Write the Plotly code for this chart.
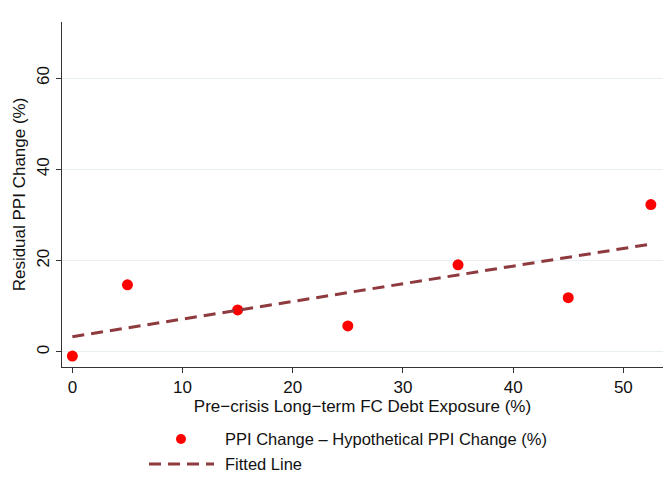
import numpy as np
import plotly.graph_objects as go

# Long-term FC debt exposure before the crisis (%) and residual PPI change (%)
exposure = [0, 5, 15, 25, 35, 45, 52.5]
residual_ppi = [-0.9, 14.7, 9.2, 5.7, 19.1, 11.9, 32.3]

x_ticks = [0, 10, 20, 30, 40, 50]
y_ticks = [0, 20, 40, 60]

scatter_label = "PPI Change \u2013 Hypothetical PPI Change (%)"
fit_label = "Fitted Line"
x_title = "Pre\u2212crisis Long\u2212term FC Debt Exposure (%)"
y_title = "Residual PPI Change (%)"

RED = "#FF0000"
MAROON = "#8E3A3E"
GRID = "#E8EFF2"
FONT = "Liberation Sans, Arial, Helvetica, sans-serif"

# OLS fit across the observed range
slope, intercept = np.polyfit(exposure, residual_ppi, 1)
fit_x = [min(exposure), max(exposure)]
fit_y = [intercept + slope * v for v in fit_x]

fig = go.Figure()
fig.add_trace(go.Scatter(
    x=exposure, y=residual_ppi, mode="markers",
    marker=dict(color=RED, size=11, line=dict(width=0)),
    name=scatter_label, showlegend=False,
))
fig.add_trace(go.Scatter(
    x=fit_x, y=fit_y, mode="lines",
    line=dict(color=MAROON, width=3, dash="12px,7px"),
    name=fit_label, showlegend=False,
))

# Legend drawn below the plot, in paper coordinates
W, H = 667, 497
ml, mr, mt, mb = 62, 4, 22, 130
pw, ph = W - ml - mr, H - mt - mb


def px(xp):
    return (xp - ml) / pw


def py(yp):
    return (H - mb - yp) / ph


legend_shapes = [
    dict(type="circle", xref="paper", yref="paper",
         x0=px(176), x1=px(186), y0=py(444), y1=py(434),
         fillcolor=RED, line=dict(width=0)),
    dict(type="line", xref="paper", yref="paper",
         x0=px(149), x1=px(214), y0=py(464), y1=py(464),
         line=dict(color=MAROON, width=3, dash="12px,7px")),
]
legend_text = [
    dict(text=scatter_label, xref="paper", yref="paper", x=px(223), y=py(439),
         xanchor="left", yanchor="middle", showarrow=False,
         font=dict(family=FONT, size=16.5, color="#111")),
    dict(text=fit_label, xref="paper", yref="paper", x=px(223), y=py(464),
         xanchor="left", yanchor="middle", showarrow=False,
         font=dict(family=FONT, size=16.5, color="#111")),
]

fig.update_layout(
    width=W, height=H,
    margin=dict(l=ml, r=mr, t=mt, b=mb),
    paper_bgcolor="white", plot_bgcolor="white",
    font=dict(family=FONT, size=16, color="#111"),
    shapes=legend_shapes, annotations=legend_text,
    showlegend=False,
)
fig.update_xaxes(
    range=[-0.94, 53.6], tickvals=x_ticks, ticks="outside", ticklen=5,
    tickcolor="#333", showline=True, linecolor="#333", linewidth=1,
    showgrid=False, zeroline=False,
    tickfont=dict(size=17), title=dict(text=x_title, font=dict(size=17), standoff=2),
)
fig.update_yaxes(
    range=[-3.3, 72.3], tickvals=y_ticks, ticks="outside", ticklen=5,
    tickcolor="#333", showline=True, linecolor="#333", linewidth=1,
    showgrid=True, gridcolor=GRID, gridwidth=1, zeroline=False,
    tickangle=-90, tickfont=dict(size=17),
    title=dict(text=y_title, font=dict(size=17), standoff=4),
)

fig.write_html("out.html")
